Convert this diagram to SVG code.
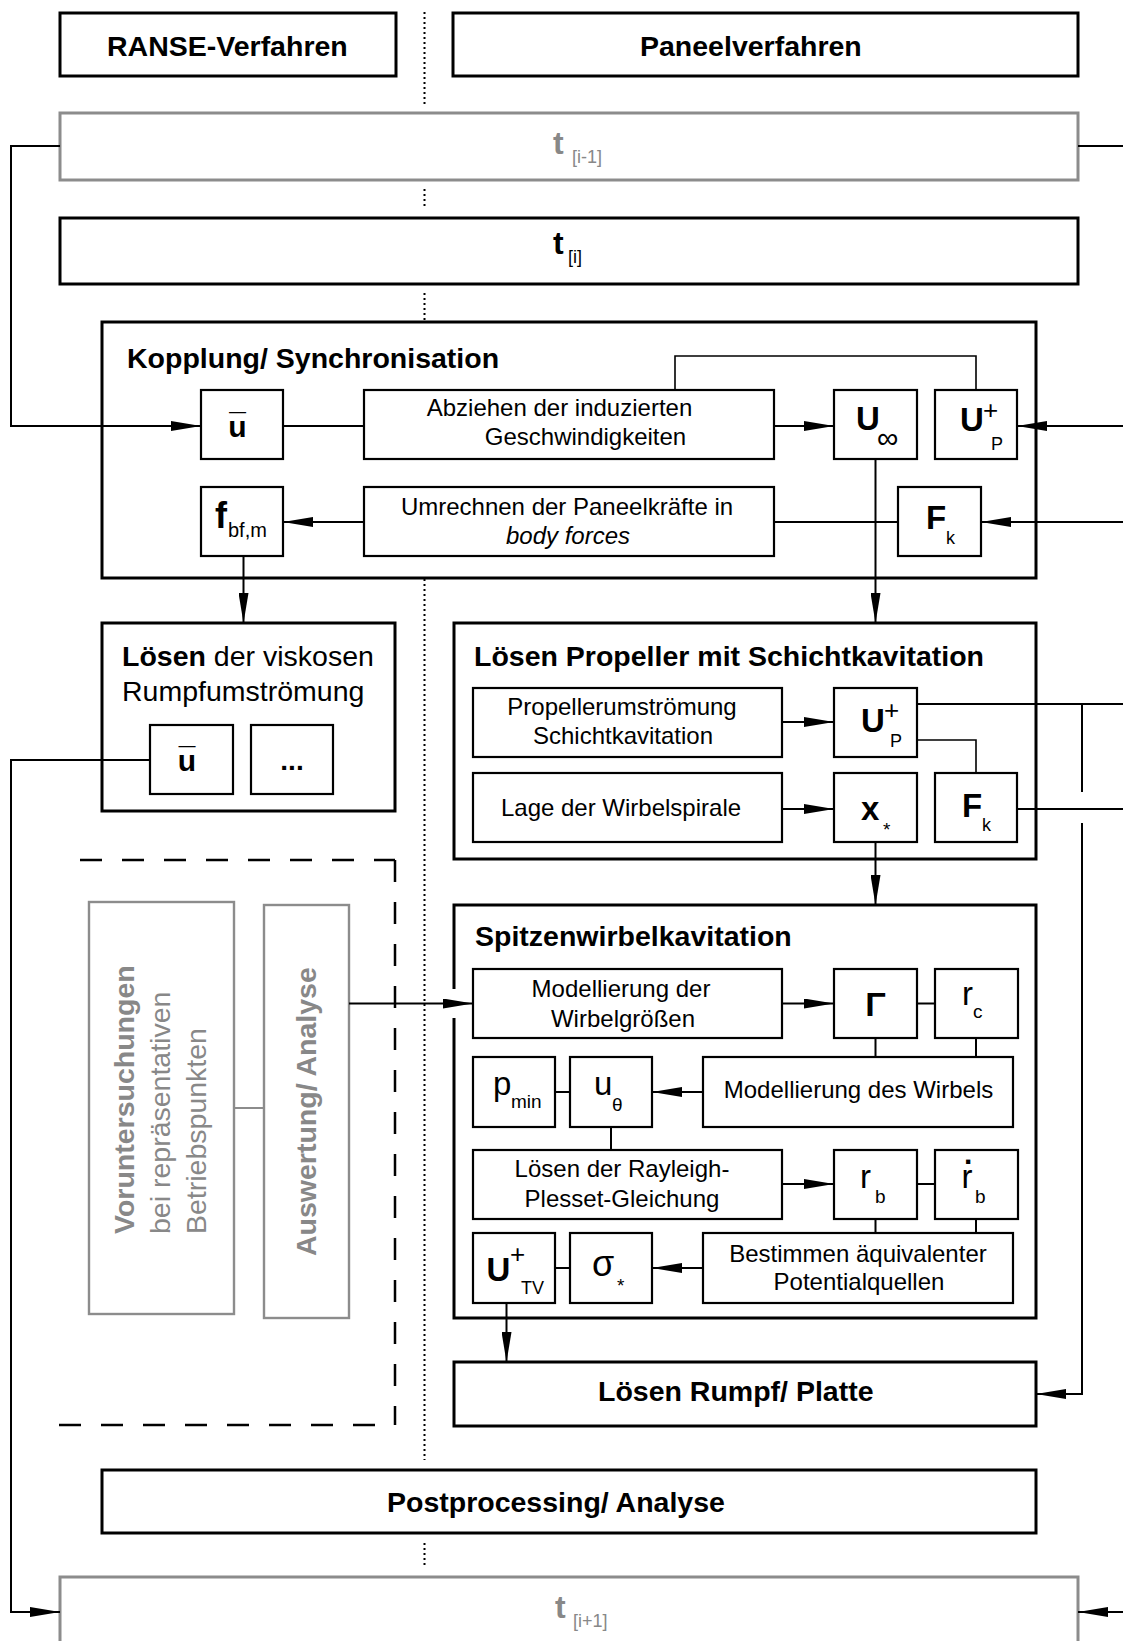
<svg xmlns="http://www.w3.org/2000/svg" width="1123" height="1641" viewBox="0 0 1123 1641">
<style>
text{font-family:"Liberation Sans",Arial,Helvetica,sans-serif;fill:#000}
.box{fill:none;stroke:#000;stroke-width:3}
.ib{fill:none;stroke:#000;stroke-width:2.2}
.gb{fill:none;stroke:#8c8c8c;stroke-width:3}
.gb2{fill:none;stroke:#8c8c8c;stroke-width:2.4}
.ln{fill:none;stroke:#000;stroke-width:2}
.thin{stroke-width:1.6}
.gl{fill:none;stroke:#8c8c8c;stroke-width:2}
.arr{marker-end:url(#ah)}
.dot{fill:none;stroke:#000;stroke-width:2;stroke-dasharray:2 3}
.dash{fill:none;stroke:#000;stroke-width:2.5;stroke-dasharray:22 20}
.tb{font-weight:bold;font-size:28.5px}
.tr{font-size:28.5px}
.ti{font-size:24px}
.mid{text-anchor:middle}
.sb{font-weight:bold;font-size:33px}
.sr{font-size:33px}
.sub{font-size:19px;font-weight:normal}
.s18{font-size:18px;font-weight:normal}
.pl{font-size:26px;font-weight:normal}
.gt{fill:#888}
</style>
<defs>
<marker id="ah" markerWidth="30" markerHeight="10" refX="30" refY="5" orient="auto" markerUnits="userSpaceOnUse"><path d="M0,0 L30,5 L0,10 z" fill="#000"/></marker>
</defs>

<g id="separator">
<path class="dot" d="M424.5,12 V105 M424.5,189 V208 M424.5,293 V321 M424.5,579 V1460 M424.5,1543 V1568"/>
</g>

<g id="ranse"><rect class="box" x="60" y="13" width="336" height="63"/><text class="tb" x="107" y="56">RANSE-Verfahren</text></g>
<g id="paneel"><rect class="box" x="453" y="13" width="625" height="63"/><text class="tb" x="640" y="56">Paneelverfahren</text></g>

<g id="t-prev"><rect class="gb" x="60" y="113" width="1018" height="67"/><text class="gt" x="553" y="154" style="font-weight:bold;font-size:32px">t<tspan class="s18" x="572" y="163">[i-1]</tspan></text></g>
<g id="t-cur"><rect class="box" x="60" y="218" width="1018" height="66"/><text x="553" y="254" style="font-weight:bold;font-size:32px">t<tspan class="s18" x="568" y="263">[i]</tspan></text></g>

<g id="kopplung"><rect class="box" x="102" y="322" width="934" height="256"/><text class="tb" x="127" y="368">Kopplung/ Synchronisation</text></g>
<g id="k-ubar"><rect class="ib" x="201" y="390" width="82" height="69"/><text class="mid" x="237.5" y="437" style="font-weight:bold;font-size:30px">u<tspan x="237.5" y="434">¯</tspan></text></g>
<g id="k-abziehen"><rect class="ib" x="364" y="390" width="410" height="69"/><text class="ti mid" x="559.5" y="416">Abziehen der induzierten</text><text class="ti mid" x="585.5" y="445">Geschwindigkeiten</text></g>
<g id="k-uinf"><rect class="ib" x="834" y="390" width="83" height="69"/><text class="sb" x="856" y="430">U<tspan x="877" y="447.5" style="font-size:30px;font-weight:normal">∞</tspan></text></g>
<g id="k-up"><rect class="ib" x="935" y="390" width="82" height="69"/><text class="sb" x="960" y="431">U<tspan class="pl" x="983" y="419">+</tspan><tspan class="s18" x="991" y="450">P</tspan></text></g>
<g id="k-f"><rect class="ib" x="201" y="487" width="82" height="69"/><text x="215" y="528" style="font-weight:bold;font-size:36px">f<tspan x="228" y="537" style="font-size:20px;font-weight:normal">bf,m</tspan></text></g>
<g id="k-umrechnen"><rect class="ib" x="364" y="487" width="410" height="69"/><text class="ti mid" x="567" y="515">Umrechnen der Paneelkräfte in</text><text class="ti mid" x="568" y="544" style="font-style:italic">body forces</text></g>
<g id="k-fk"><rect class="ib" x="898" y="487" width="83" height="69"/><text class="sb" x="926" y="529">F<tspan class="s18" x="946" y="544">k</tspan></text></g>

<g id="viskos"><rect class="box" x="102" y="623" width="293" height="188"/><text class="tr" x="122" y="666"><tspan font-weight="bold">Lösen</tspan> der viskosen</text><text class="tr" x="122" y="701">Rumpfumströmung</text></g>
<g id="v-ubar"><rect class="ib" x="150" y="725" width="83" height="69"/><text class="mid" x="187" y="771" style="font-weight:bold;font-size:30px">u<tspan x="187" y="768">¯</tspan></text></g>
<g id="v-dots"><rect class="ib" x="251" y="725" width="82" height="69"/><text class="mid" x="292" y="770" style="font-weight:bold;font-size:28px">...</text></g>

<g id="propeller"><rect class="box" x="454" y="623" width="582" height="236"/><text class="tb" x="474" y="666">Lösen Propeller mit Schichtkavitation</text></g>
<g id="p-umstr"><rect class="ib" x="473" y="688" width="309" height="69"/><text class="ti mid" x="622" y="715">Propellerumströmung</text><text class="ti mid" x="623" y="744">Schichtkavitation</text></g>
<g id="p-up"><rect class="ib" x="834" y="688" width="83" height="69"/><text class="sb" x="861" y="732">U<tspan class="pl" x="884" y="719">+</tspan><tspan class="s18" x="890" y="747">P</tspan></text></g>
<g id="p-lage"><rect class="ib" x="473" y="773" width="309" height="69"/><text class="ti mid" x="621" y="816">Lage der Wirbelspirale</text></g>
<g id="p-x"><rect class="ib" x="834" y="773" width="83" height="69"/><text class="sb" x="861" y="820">x<tspan class="sub" x="883" y="836">*</tspan></text></g>
<g id="p-fk"><rect class="ib" x="935" y="773" width="82" height="69"/><text class="sb" x="962" y="817">F<tspan class="s18" x="982" y="831">k</tspan></text></g>

<g id="voruntersuchung-bereich"><path class="dash" d="M80,860 H395"/><path class="dash" d="M395,860 V1425"/><path class="dash" d="M59,1425 H395"/></g>
<g id="voruntersuchungen"><rect class="gb2" x="89" y="902" width="145" height="412"/>
<text class="tb gt" x="134" y="1234" transform="rotate(-90 134 1234)">Voruntersuchungen</text>
<text class="tr gt" x="170" y="1234" transform="rotate(-90 170 1234)">bei repräsentativen</text>
<text class="tr gt" x="206" y="1234" transform="rotate(-90 206 1234)">Betriebspunkten</text></g>
<g id="auswertung"><rect class="gb2" x="264" y="905" width="85" height="413"/><text class="tb gt" x="316" y="1256" transform="rotate(-90 316 1256)">Auswertung/ Analyse</text></g>

<g id="spitzenwirbel"><path class="box" d="M454,989 V905 H1036 V1318 H454 V1018"/><text class="tb" x="475" y="946">Spitzenwirbelkavitation</text></g>
<g id="s-mod"><rect class="ib" x="473" y="969" width="309" height="69"/><text class="ti mid" x="621" y="997">Modellierung der</text><text class="ti mid" x="623" y="1027">Wirbelgrößen</text></g>
<g id="s-gamma"><rect class="ib" x="834" y="969" width="83" height="69"/><text class="mid" x="875.5" y="1016" style="font-size:34px;font-weight:bold">Γ</text></g>
<g id="s-rc"><rect class="ib" x="935" y="969" width="83" height="69"/><text class="sr" x="962" y="1005">r<tspan class="sub" x="973" y="1018">c</tspan></text></g>
<g id="s-pmin"><rect class="ib" x="473" y="1057" width="82" height="70"/><text class="sr" x="493" y="1095">p<tspan class="sub" x="511" y="1108">min</tspan></text></g>
<g id="s-utheta"><rect class="ib" x="570" y="1057" width="82" height="70"/><text class="sr" x="594" y="1095">u<tspan class="sub" x="612" y="1111">θ</tspan></text></g>
<g id="s-modw"><rect class="ib" x="703" y="1057" width="310" height="70"/><text class="ti mid" x="858.5" y="1098">Modellierung des Wirbels</text></g>
<g id="s-rayleigh"><rect class="ib" x="473" y="1150" width="309" height="69"/><text class="ti mid" x="622" y="1177">Lösen der Rayleigh-</text><text class="ti mid" x="622" y="1207">Plesset-Gleichung</text></g>
<g id="s-rb"><rect class="ib" x="834" y="1150" width="83" height="69"/><text class="sr" x="860" y="1188">r<tspan class="sub" x="875" y="1203">b</tspan></text></g>
<g id="s-rbdot"><rect class="ib" x="935" y="1150" width="83" height="69"/><text class="sr" x="961.5" y="1188">r<tspan x="964" y="1164" style="font-weight:bold;font-size:30px">.</tspan><tspan class="sub" x="975" y="1203">b</tspan></text></g>
<g id="s-utv"><rect class="ib" x="473" y="1233" width="82" height="70"/><text class="sb" x="486.5" y="1281">U<tspan class="pl" x="510" y="1263">+</tspan><tspan class="s18" x="521" y="1294">TV</tspan></text></g>
<g id="s-sigma"><rect class="ib" x="570" y="1233" width="82" height="70"/><text x="592" y="1276" style="font-size:36px">σ<tspan class="sub" x="617" y="1292">*</tspan></text></g>
<g id="s-bestimmen"><rect class="ib" x="703" y="1233" width="310" height="70"/><text class="ti mid" x="858" y="1262">Bestimmen äquivalenter</text><text class="ti mid" x="859" y="1290">Potentialquellen</text></g>

<g id="rumpf"><rect class="box" x="454" y="1362" width="582" height="64"/><text class="tb" x="598" y="1401">Lösen Rumpf/ Platte</text></g>
<g id="postprocessing"><rect class="box" x="102" y="1470" width="934" height="63"/><text class="tb" x="387" y="1512">Postprocessing/ Analyse</text></g>
<g id="t-next"><rect class="gb" x="60" y="1577" width="1018" height="90"/><text class="gt" x="555" y="1618" style="font-weight:bold;font-size:32px">t<tspan class="s18" x="573" y="1627">[i+1]</tspan></text></g>

<g id="connectors">
<path class="ln arr" d="M60,146 H11 V426 H201"/>
<path class="ln" d="M1078,146 H1123"/>
<path class="ln" d="M283,426 H364"/>
<path class="ln arr" d="M774,426 H834"/>
<path class="ln thin" d="M675,390 V356 H976 V390"/>
<path class="ln arr" d="M1123,426 H1017"/>
<path class="ln arr" d="M1123,522 H981"/>
<path class="ln" d="M898,522 H774"/>
<path class="ln arr" d="M364,522 H283"/>
<path class="ln arr" d="M243.5,556 V623"/>
<path class="ln arr" d="M875.5,459 V623"/>
<path class="ln arr" d="M150,760 H11 V1612 H60"/>
<path class="ln arr" d="M782,722 H834"/>
<path class="ln arr" d="M782,809 H834"/>
<path class="ln" d="M917,704 H1123"/>
<path class="ln thin" d="M917,740 H976 V773"/>
<path class="ln" d="M1017,809 H1123"/>
<path class="ln" d="M1082,704 V792"/>
<path class="ln arr" d="M1082,823 V1394 H1036"/>
<path class="ln arr" d="M875.5,842 V905"/>
<path class="ln arr" d="M349,1003.5 H473"/>
<path class="gl" d="M234,1108 H264"/>
<path class="ln arr" d="M782,1003.5 H834"/>
<path class="ln" d="M917,1003.5 H935"/>
<path class="ln" d="M875.5,1038 V1057 M976,1038 V1057"/>
<path class="ln arr" d="M703,1092 H652"/>
<path class="ln" d="M555,1092 H570"/>
<path class="ln" d="M611,1127 V1150"/>
<path class="ln arr" d="M782,1184 H834"/>
<path class="ln" d="M917,1184 H935"/>
<path class="ln" d="M875.5,1219 V1233 M976,1219 V1233"/>
<path class="ln arr" d="M703,1268 H652"/>
<path class="ln" d="M555,1268 H570"/>
<path class="ln arr" d="M506.5,1303 V1362"/>
<path class="ln arr" d="M1123,1612 H1078"/>
</g>
</svg>
